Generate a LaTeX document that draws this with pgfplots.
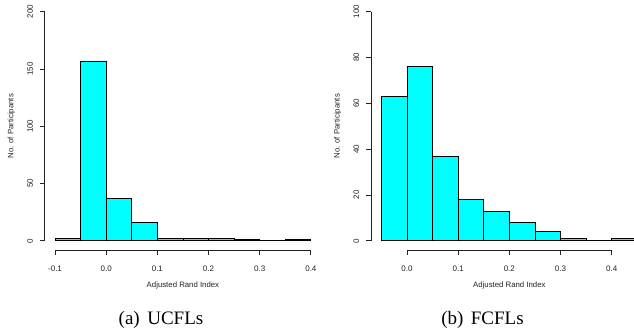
\documentclass[border=0pt]{standalone}
\usepackage{fontspec}
\setmainfont{Liberation Serif}
\setsansfont{Liberation Sans}
\usepackage{pgfplots}
\pgfplotsset{compat=1.18}
\definecolor{rcyan}{RGB}{0,255,255}
\definecolor{axgray}{RGB}{35,35,35}
\pgfplotsset{rhist/.style={
  scale only axis, width=276.3pt, height=247.5pt,
  anchor=south west,
  axis line style={draw=none},
  tick pos=left, tick align=outside, major tick length=5pt,
  tick style={line width=0.75pt, color=axgray},
  ticklabel style={font=\sffamily\fontsize{8}{9}\selectfont, text=axgray},
  every y tick label/.style={anchor=center, rotate=90, inner sep=0pt},
  yticklabel pos=left,
  yticklabel style={yshift=9.8pt},
  xticklabel style={anchor=north, inner sep=0pt},
  xticklabel shift=11pt,
  clip=false,
  xlabel={Adjusted Rand Index}, ylabel={No. of Participants},
  label style={font=\sffamily\fontsize{7.8}{9}\selectfont, text=axgray},
  xlabel style={at={(axis description cs:0.5,-0.1414)}, anchor=center},
  ylabel style={at={(axis description cs:-0.1212,0.5)}, anchor=center, rotate=0},
}}
\begin{document}
\begin{tikzpicture}
\useasboundingbox (0,0) rectangle (634pt,329pt);
\begin{axis}[rhist, at={(44.8pt,79pt)},
  xmin=-0.12, xmax=0.42, ymin=-8, ymax=208,
  xtick={-0.1,0,0.1,0.2,0.3,0.4},
  xticklabels={-0.1,0.0,0.1,0.2,0.3,0.4},
  ytick={0,50,100,150,200},
  yticklabels={0,50,100,150,200}]
\addplot[ybar interval, fill=rcyan, draw=black, line width=0.75pt] coordinates {
(-0.10,2) (-0.05,157) (0.00,37) (0.05,16) (0.10,2) (0.15,2) (0.20,2) (0.25,1) (0.30,0) (0.35,1) (0.40,0)};
\draw[line width=0.75pt, axgray] (axis cs:-0.1,-8) -- (axis cs:0.4,-8);
\draw[line width=0.75pt, axgray] (axis cs:-0.12,0) -- (axis cs:-0.12,200);
\end{axis}
\begin{axis}[rhist, at={(371.2pt,79pt)},
  xmin=-0.07, xmax=0.47, ymin=-4, ymax=104,
  xtick={0,0.1,0.2,0.3,0.4},
  xticklabels={0.0,0.1,0.2,0.3,0.4},
  ytick={0,20,40,60,80,100},
  yticklabels={0,20,40,60,80,100}]
\addplot[ybar interval, fill=rcyan, draw=black, line width=0.75pt] coordinates {
(-0.05,63) (0.00,76) (0.05,37) (0.10,18) (0.15,13) (0.20,8) (0.25,4) (0.30,1) (0.35,0) (0.40,1) (0.45,0)};
\draw[line width=0.75pt, axgray] (axis cs:0,-4) -- (axis cs:0.4,-4);
\draw[line width=0.75pt, axgray] (axis cs:-0.07,0) -- (axis cs:-0.07,100);
\end{axis}
\node[anchor=base, font=\fontsize{19}{21}\selectfont] at (161pt,5pt) {(a)\hspace{7.5pt}UCFLs};
\node[anchor=base, font=\fontsize{19}{21}\selectfont] at (482.5pt,5pt) {(b)\hspace{7.5pt}FCFLs};
\end{tikzpicture}
\end{document}
